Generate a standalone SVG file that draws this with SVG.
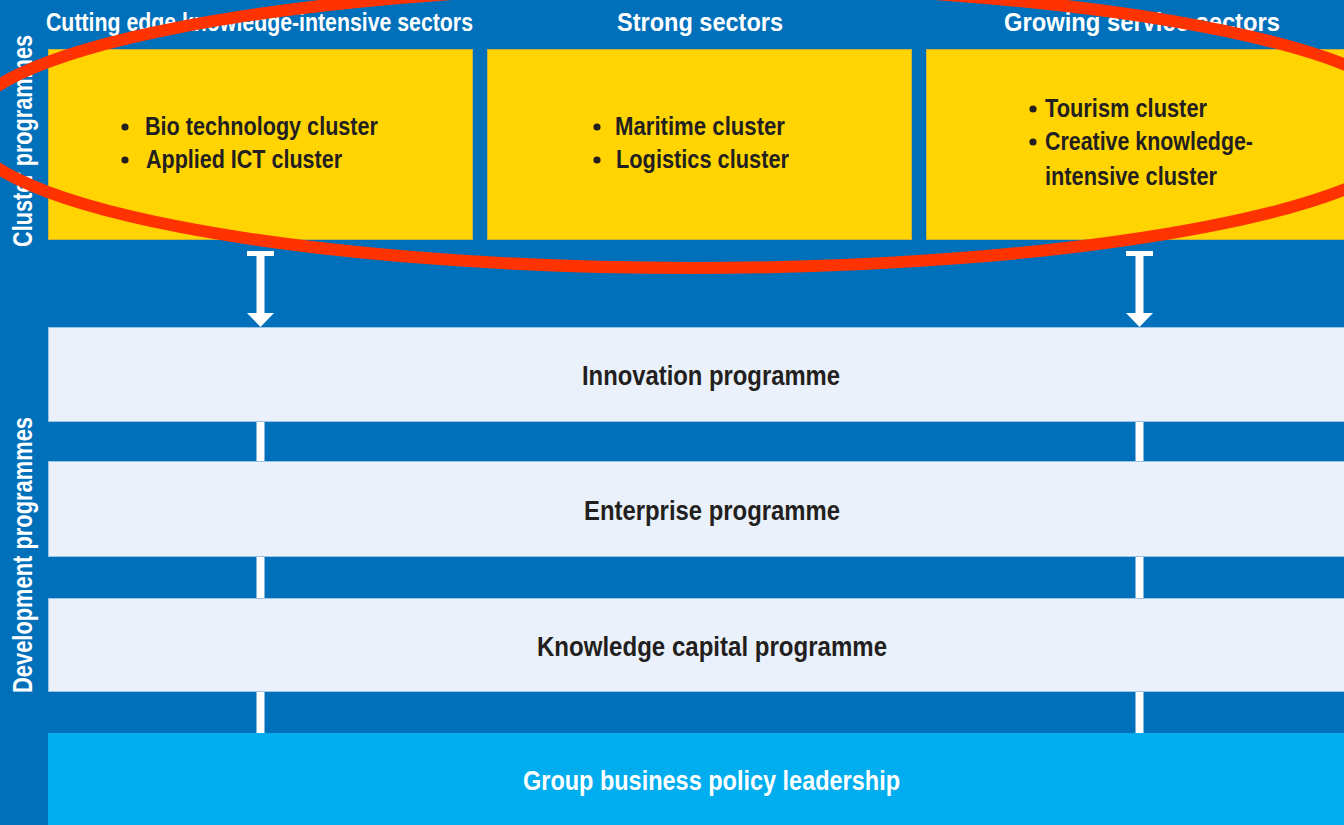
<svg xmlns="http://www.w3.org/2000/svg" width="1344" height="825" viewBox="0 0 1344 825">
<defs>
<style>
.bg{fill:#0070BB}
.yel{fill:#FFD400;stroke:#C9B23A;stroke-width:1}
.lt{fill:#EAF1FA;stroke:#9CC3E6;stroke-width:1}
.grp{fill:#00AEEF}
.hdr{font-family:"Liberation Sans",Arial,sans-serif;font-weight:bold;font-size:26px;fill:#ffffff}
.yt{font-family:"Liberation Sans",Arial,sans-serif;font-weight:bold;font-size:25px;fill:#231F20}
.pt{font-family:"Liberation Sans",Arial,sans-serif;font-weight:bold;font-size:28px;fill:#231F20}
.wt{font-family:"Liberation Sans",Arial,sans-serif;font-weight:bold;font-size:28px;fill:#ffffff}
.side{font-family:"Liberation Sans",Arial,sans-serif;font-weight:bold;font-size:27px;fill:#ffffff}
.wl{stroke:#ffffff;stroke-width:8;fill:none}
.ah{fill:#ffffff}
</style>
</defs>
<rect class="bg" x="0" y="0" width="1344" height="825"/>

<g id="connectors">
<rect class="ah" x="247" y="251" width="27" height="5"/>
<line class="wl" x1="260.5" y1="252" x2="260.5" y2="314"/>
<polygon class="ah" points="247,313 274,313 260.5,327"/>
<rect class="ah" x="1126" y="251" width="27" height="5"/>
<line class="wl" x1="1139.5" y1="252" x2="1139.5" y2="314"/>
<polygon class="ah" points="1126,313 1153,313 1139.5,327"/>
<line class="wl" x1="260.5" y1="420" x2="260.5" y2="734"/>
<line class="wl" x1="1139.5" y1="420" x2="1139.5" y2="734"/>
</g>

<g id="side-labels">
<text class="side" transform="translate(32,141) rotate(-90)" text-anchor="middle" textLength="212" lengthAdjust="spacingAndGlyphs">Cluster programmes</text>
<text class="side" transform="translate(32,555) rotate(-90)" text-anchor="middle" textLength="276" lengthAdjust="spacingAndGlyphs">Development programmes</text>
</g>

<g id="header-cutting">
<text class="hdr" x="46" y="31" textLength="427" lengthAdjust="spacingAndGlyphs">Cutting edge knowledge-intensive sectors</text>
</g>
<g id="header-strong">
<text class="hdr" x="617" y="31" textLength="166" lengthAdjust="spacingAndGlyphs">Strong sectors</text>
</g>
<g id="header-growing">
<text class="hdr" x="1004" y="31" textLength="276" lengthAdjust="spacingAndGlyphs">Growing service sectors</text>
</g>

<g id="box-cutting">
<rect class="yel" x="48.5" y="49.5" width="424" height="190"/>
<circle cx="125" cy="127" r="3.6" fill="#231F20"/>
<text class="yt" x="145" y="135" textLength="233" lengthAdjust="spacingAndGlyphs">Bio technology cluster</text>
<circle cx="125" cy="160" r="3.6" fill="#231F20"/>
<text class="yt" x="146" y="168" textLength="196" lengthAdjust="spacingAndGlyphs">Applied ICT cluster</text>
</g>

<g id="box-strong">
<rect class="yel" x="487.5" y="49.5" width="424" height="190"/>
<circle cx="597" cy="127" r="3.6" fill="#231F20"/>
<text class="yt" x="615" y="135" textLength="170" lengthAdjust="spacingAndGlyphs">Maritime cluster</text>
<circle cx="597" cy="160" r="3.6" fill="#231F20"/>
<text class="yt" x="616" y="168" textLength="173" lengthAdjust="spacingAndGlyphs">Logistics cluster</text>
</g>

<g id="box-growing">
<rect class="yel" x="926.5" y="49.5" width="430" height="190"/>
<circle cx="1033" cy="109" r="3.6" fill="#231F20"/>
<text class="yt" x="1045" y="117" textLength="162" lengthAdjust="spacingAndGlyphs">Tourism cluster</text>
<circle cx="1033" cy="142" r="3.6" fill="#231F20"/>
<text class="yt" x="1045" y="150" textLength="208" lengthAdjust="spacingAndGlyphs">Creative knowledge-</text>
<text class="yt" x="1045" y="185" textLength="172" lengthAdjust="spacingAndGlyphs">intensive cluster</text>
</g>

<g id="innovation">
<rect class="lt" x="48.5" y="327.5" width="1300" height="94"/>
<text class="pt" x="582" y="385" textLength="258" lengthAdjust="spacingAndGlyphs">Innovation programme</text>
</g>
<g id="enterprise">
<rect class="lt" x="48.5" y="461.5" width="1300" height="95"/>
<text class="pt" x="584" y="520" textLength="256" lengthAdjust="spacingAndGlyphs">Enterprise programme</text>
</g>
<g id="knowledge">
<rect class="lt" x="48.5" y="598.5" width="1300" height="93"/>
<text class="pt" x="537" y="656" textLength="350" lengthAdjust="spacingAndGlyphs">Knowledge capital programme</text>
</g>
<g id="group-leadership">
<rect class="grp" x="48" y="733" width="1300" height="95"/>
<text class="wt" x="523" y="790" textLength="377" lengthAdjust="spacingAndGlyphs">Group business policy leadership</text>
</g>

<g id="highlight">
<ellipse cx="693" cy="127" rx="727" ry="141" fill="none" stroke="#FF3300" stroke-width="12"/>
</g>
</svg>
